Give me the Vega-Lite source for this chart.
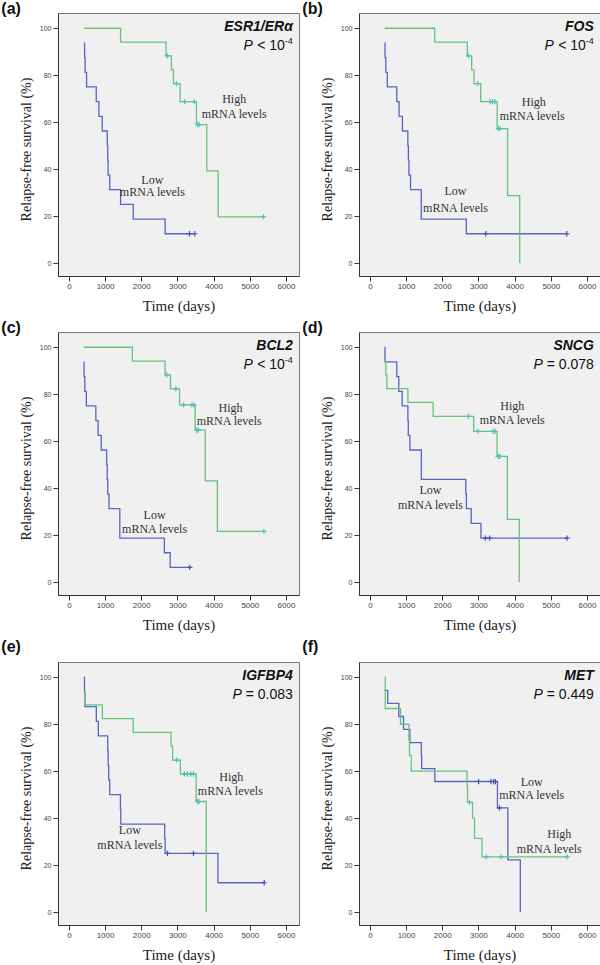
{
  "$schema": "https://vega.github.io/schema/vega-lite/v6.json",
  "background": "white",
  "padding": {"left": 0, "top": 0, "right": 0, "bottom": 0},
  "datasets": {
    "km": [
      {"p":"a","g":"Low","t":425,"s":93.75},{"p":"a","g":"Low","t":435,"s":87.5},{"p":"a","g":"Low","t":450,"s":81.25},{"p":"a","g":"Low","t":490,"s":75},{"p":"a","g":"Low","t":757,"s":68.75},{"p":"a","g":"Low","t":830,"s":62.5},{"p":"a","g":"Low","t":923,"s":56.25},{"p":"a","g":"Low","t":1062,"s":50},{"p":"a","g":"Low","t":1075,"s":43.75},{"p":"a","g":"Low","t":1085,"s":37.5},{"p":"a","g":"Low","t":1130,"s":31.25},{"p":"a","g":"Low","t":1430,"s":25},{"p":"a","g":"Low","t":1780,"s":18.75},{"p":"a","g":"Low","t":2660,"s":12.5},{"p":"a","g":"Low","t":3332,"s":12.5,"c":1},{"p":"a","g":"Low","t":3480,"s":12.5,"c":1},
      {"p":"a","g":"High","t":425,"s":100},{"p":"a","g":"High","t":1430,"s":94.1},{"p":"a","g":"High","t":2686,"s":88.2},{"p":"a","g":"High","t":2720,"s":88.2,"c":1},{"p":"a","g":"High","t":2834,"s":82.3},{"p":"a","g":"High","t":2890,"s":76.4},{"p":"a","g":"High","t":2972,"s":76.4,"c":1},{"p":"a","g":"High","t":3074,"s":68.8},{"p":"a","g":"High","t":3203,"s":68.8,"c":1},{"p":"a","g":"High","t":3462,"s":68.8,"c":1},{"p":"a","g":"High","t":3526,"s":59},{"p":"a","g":"High","t":3560,"s":59,"c":1},{"p":"a","g":"High","t":3600,"s":59,"c":1},{"p":"a","g":"High","t":3812,"s":39.3},{"p":"a","g":"High","t":4126,"s":19.7},{"p":"a","g":"High","t":5382,"s":19.7,"c":1},
      {"p":"b","g":"Low","t":409,"s":93.75},{"p":"b","g":"Low","t":420,"s":87.5},{"p":"b","g":"Low","t":440,"s":81.25},{"p":"b","g":"Low","t":483,"s":75},{"p":"b","g":"Low","t":743,"s":68.75},{"p":"b","g":"Low","t":808,"s":62.5},{"p":"b","g":"Low","t":900,"s":56.25},{"p":"b","g":"Low","t":1050,"s":50},{"p":"b","g":"Low","t":1065,"s":43.75},{"p":"b","g":"Low","t":1080,"s":37.5},{"p":"b","g":"Low","t":1124,"s":31.25},{"p":"b","g":"Low","t":1421,"s":18.75},{"p":"b","g":"Low","t":2665,"s":12.5},{"p":"b","g":"Low","t":3203,"s":12.5,"c":1},{"p":"b","g":"Low","t":5443,"s":12.5,"c":1},
      {"p":"b","g":"High","t":409,"s":100},{"p":"b","g":"High","t":1792,"s":94.1},{"p":"b","g":"High","t":2693,"s":88.2},{"p":"b","g":"High","t":2725,"s":88.2,"c":1},{"p":"b","g":"High","t":2813,"s":82.3},{"p":"b","g":"High","t":2878,"s":76.4},{"p":"b","g":"High","t":2980,"s":76.4,"c":1},{"p":"b","g":"High","t":3064,"s":68.8},{"p":"b","g":"High","t":3324,"s":68.8,"c":1},{"p":"b","g":"High","t":3389,"s":68.8,"c":1},{"p":"b","g":"High","t":3454,"s":68.8,"c":1},{"p":"b","g":"High","t":3519,"s":57.3},{"p":"b","g":"High","t":3550,"s":57.3,"c":1},{"p":"b","g":"High","t":3600,"s":57.3,"c":1},{"p":"b","g":"High","t":3807,"s":28.7},{"p":"b","g":"High","t":4141,"s":0},
      {"p":"c","g":"Low","t":410,"s":93.75},{"p":"c","g":"Low","t":420,"s":87.5},{"p":"c","g":"Low","t":440,"s":81.25},{"p":"c","g":"Low","t":483,"s":75},{"p":"c","g":"Low","t":746,"s":68.75},{"p":"c","g":"Low","t":808,"s":62.5},{"p":"c","g":"Low","t":895,"s":56.25},{"p":"c","g":"Low","t":1045,"s":50},{"p":"c","g":"Low","t":1060,"s":43.75},{"p":"c","g":"Low","t":1075,"s":37.5},{"p":"c","g":"Low","t":1110,"s":31.25},{"p":"c","g":"Low","t":1408,"s":18.75},{"p":"c","g":"Low","t":2640,"s":12.5},{"p":"c","g":"Low","t":2800,"s":6.25},{"p":"c","g":"Low","t":3340,"s":6.25,"c":1},
      {"p":"c","g":"High","t":410,"s":100},{"p":"c","g":"High","t":1754,"s":94.1},{"p":"c","g":"High","t":2659,"s":88.2},{"p":"c","g":"High","t":2705,"s":88.2,"c":1},{"p":"c","g":"High","t":2808,"s":82.3},{"p":"c","g":"High","t":2957,"s":82.3,"c":1},{"p":"c","g":"High","t":3060,"s":75.5},{"p":"c","g":"High","t":3170,"s":75.5,"c":1},{"p":"c","g":"High","t":3400,"s":75.5,"c":1},{"p":"c","g":"High","t":3460,"s":75.5,"c":1},{"p":"c","g":"High","t":3490,"s":64.7},{"p":"c","g":"High","t":3530,"s":64.7,"c":1},{"p":"c","g":"High","t":3580,"s":64.7,"c":1},{"p":"c","g":"High","t":3769,"s":43.1},{"p":"c","g":"High","t":4104,"s":21.6},{"p":"c","g":"High","t":5390,"s":21.6,"c":1},
      {"p":"d","g":"Low","t":410,"s":100},{"p":"d","g":"Low","t":418,"s":93.75},{"p":"d","g":"Low","t":744,"s":87.5},{"p":"d","g":"Low","t":800,"s":81.25},{"p":"d","g":"Low","t":893,"s":75},{"p":"d","g":"Low","t":1051,"s":68.75},{"p":"d","g":"Low","t":1062,"s":62.5},{"p":"d","g":"Low","t":1107,"s":56.25},{"p":"d","g":"Low","t":1423,"s":43.75},{"p":"d","g":"Low","t":2651,"s":37.5},{"p":"d","g":"Low","t":2668,"s":31.25},{"p":"d","g":"Low","t":2800,"s":25},{"p":"d","g":"Low","t":3070,"s":18.75},{"p":"d","g":"Low","t":3190,"s":18.75,"c":1},{"p":"d","g":"Low","t":3310,"s":18.75,"c":1},{"p":"d","g":"Low","t":5450,"s":18.75,"c":1},
      {"p":"d","g":"High","t":410,"s":94.1},{"p":"d","g":"High","t":440,"s":88.2},{"p":"d","g":"High","t":470,"s":82.4},{"p":"d","g":"High","t":1051,"s":76.5},{"p":"d","g":"High","t":1749,"s":70.6},{"p":"d","g":"High","t":2725,"s":70.6,"c":1},{"p":"d","g":"High","t":2870,"s":64.2},{"p":"d","g":"High","t":2986,"s":64.2,"c":1},{"p":"d","g":"High","t":3405,"s":64.2,"c":1},{"p":"d","g":"High","t":3460,"s":64.2,"c":1},{"p":"d","g":"High","t":3516,"s":53.5},{"p":"d","g":"High","t":3544,"s":53.5,"c":1},{"p":"d","g":"High","t":3590,"s":53.5,"c":1},{"p":"d","g":"High","t":3800,"s":26.7},{"p":"d","g":"High","t":4130,"s":0},
      {"p":"e","g":"Low","t":426,"s":100},{"p":"e","g":"Low","t":432,"s":93.75},{"p":"e","g":"Low","t":442,"s":87.5},{"p":"e","g":"Low","t":759,"s":81.25},{"p":"e","g":"Low","t":815,"s":75},{"p":"e","g":"Low","t":1074,"s":68.75},{"p":"e","g":"Low","t":1085,"s":62.5},{"p":"e","g":"Low","t":1100,"s":56.25},{"p":"e","g":"Low","t":1130,"s":50},{"p":"e","g":"Low","t":1426,"s":43.75},{"p":"e","g":"Low","t":1435,"s":37.5},{"p":"e","g":"Low","t":2648,"s":31.25},{"p":"e","g":"Low","t":2662,"s":25},{"p":"e","g":"Low","t":2722,"s":25,"c":1},{"p":"e","g":"Low","t":3444,"s":25,"c":1},{"p":"e","g":"Low","t":4120,"s":12.5},{"p":"e","g":"Low","t":5398,"s":12.5,"c":1},
      {"p":"e","g":"High","t":426,"s":94.1},{"p":"e","g":"High","t":440,"s":88.2},{"p":"e","g":"High","t":926,"s":82.4},{"p":"e","g":"High","t":1778,"s":76.5},{"p":"e","g":"High","t":2824,"s":70.6},{"p":"e","g":"High","t":2870,"s":64.7},{"p":"e","g":"High","t":2980,"s":64.7,"c":1},{"p":"e","g":"High","t":3083,"s":58.8},{"p":"e","g":"High","t":3190,"s":58.8,"c":1},{"p":"e","g":"High","t":3280,"s":58.8,"c":1},{"p":"e","g":"High","t":3370,"s":58.8,"c":1},{"p":"e","g":"High","t":3444,"s":58.8,"c":1},{"p":"e","g":"High","t":3518,"s":47.1},{"p":"e","g":"High","t":3555,"s":47.1,"c":1},{"p":"e","g":"High","t":3600,"s":47.1,"c":1},{"p":"e","g":"High","t":3796,"s":0},
      {"p":"f","g":"Low","t":409,"s":94.4},{"p":"f","g":"Low","t":493,"s":88.9},{"p":"f","g":"Low","t":800,"s":83.3},{"p":"f","g":"Low","t":930,"s":77.8},{"p":"f","g":"Low","t":1107,"s":72.2},{"p":"f","g":"Low","t":1423,"s":66.7},{"p":"f","g":"Low","t":1432,"s":61.1},{"p":"f","g":"Low","t":1795,"s":55.6},{"p":"f","g":"Low","t":3005,"s":55.6,"c":1},{"p":"f","g":"Low","t":3349,"s":55.6,"c":1},{"p":"f","g":"Low","t":3423,"s":55.6,"c":1},{"p":"f","g":"Low","t":3470,"s":55.6,"c":1},{"p":"f","g":"Low","t":3526,"s":44.4},{"p":"f","g":"Low","t":3580,"s":44.4,"c":1},{"p":"f","g":"Low","t":3814,"s":22.2},{"p":"f","g":"Low","t":4158,"s":0},
      {"p":"f","g":"High","t":409,"s":100},{"p":"f","g":"High","t":425,"s":86.7},{"p":"f","g":"High","t":847,"s":80},{"p":"f","g":"High","t":1080,"s":73.3},{"p":"f","g":"High","t":1095,"s":66.7},{"p":"f","g":"High","t":1144,"s":60},{"p":"f","g":"High","t":2688,"s":53.3},{"p":"f","g":"High","t":2700,"s":46.7},{"p":"f","g":"High","t":2753,"s":46.7,"c":1},{"p":"f","g":"High","t":2837,"s":40},{"p":"f","g":"High","t":2893,"s":31.4},{"p":"f","g":"High","t":3098,"s":23.5},{"p":"f","g":"High","t":3219,"s":23.5,"c":1},{"p":"f","g":"High","t":3628,"s":23.5,"c":1},{"p":"f","g":"High","t":5451,"s":23.5,"c":1}
    ],
    "ann": [
      {"p":"a","k":"gene","t":6190,"s":98.7,"txt":"ESR1/ERα"},{"p":"a","k":"r1","t":6190,"s":90.8,"txt":"< 10"},{"p":"a","k":"sup","t":6190,"s":90.8,"txt":"-4"},{"p":"a","k":"p1","t":6190,"s":90.8,"txt":"P"},
      {"p":"a","k":"lab","t":4569,"s":68.2,"txt":"High"},{"p":"a","k":"lab","t":4569,"s":61.8,"txt":"mRNA levels"},{"p":"a","k":"lab","t":2308,"s":33.7,"txt":"Low"},{"p":"a","k":"lab","t":2308,"s":28.4,"txt":"mRNA levels"},
      {"p":"b","k":"gene","t":6190,"s":98.7,"txt":"FOS"},{"p":"b","k":"r1","t":6190,"s":90.8,"txt":"< 10"},{"p":"b","k":"sup","t":6190,"s":90.8,"txt":"-4"},{"p":"b","k":"p1","t":6190,"s":90.8,"txt":"P"},
      {"p":"b","k":"lab","t":4531,"s":66.8,"txt":"High"},{"p":"b","k":"lab","t":4485,"s":61.1,"txt":"mRNA levels"},{"p":"b","k":"lab","t":2368,"s":28.8,"txt":"Low"},{"p":"b","k":"lab","t":2368,"s":21.7,"txt":"mRNA levels"},
      {"p":"c","k":"gene","t":6190,"s":98.7,"txt":"BCL2"},{"p":"c","k":"r1","t":6190,"s":90.8,"txt":"< 10"},{"p":"c","k":"sup","t":6190,"s":90.8,"txt":"-4"},{"p":"c","k":"p1","t":6190,"s":90.8,"txt":"P"},
      {"p":"c","k":"lab","t":4468,"s":72.4,"txt":"High"},{"p":"c","k":"lab","t":4431,"s":66.7,"txt":"mRNA levels"},{"p":"c","k":"lab","t":2369,"s":27,"txt":"Low"},{"p":"c","k":"lab","t":2369,"s":21.1,"txt":"mRNA levels"},
      {"p":"d","k":"gene","t":6190,"s":98.7,"txt":"SNCG"},{"p":"d","k":"r2","t":6190,"s":90.8,"txt":"= 0.078"},{"p":"d","k":"p2","t":6190,"s":90.8,"txt":"P"},
      {"p":"d","k":"lab","t":3935,"s":73.3,"txt":"High"},{"p":"d","k":"lab","t":3935,"s":67.2,"txt":"mRNA levels"},{"p":"d","k":"lab","t":1674,"s":37.4,"txt":"Low"},{"p":"d","k":"lab","t":1674,"s":31.3,"txt":"mRNA levels"},
      {"p":"e","k":"gene","t":6190,"s":98.7,"txt":"IGFBP4"},{"p":"e","k":"r2","t":6190,"s":90.8,"txt":"= 0.083"},{"p":"e","k":"p2","t":6190,"s":90.8,"txt":"P"},
      {"p":"e","k":"lab","t":4491,"s":56,"txt":"High"},{"p":"e","k":"lab","t":4463,"s":49.9,"txt":"mRNA levels"},{"p":"e","k":"lab","t":1685,"s":33.2,"txt":"Low"},{"p":"e","k":"lab","t":1685,"s":26.8,"txt":"mRNA levels"},
      {"p":"f","k":"gene","t":6190,"s":98.7,"txt":"MET"},{"p":"f","k":"r2","t":6190,"s":90.8,"txt":"= 0.449"},{"p":"f","k":"p2","t":6190,"s":90.8,"txt":"P"},
      {"p":"f","k":"lab","t":4474,"s":53.9,"txt":"Low"},{"p":"f","k":"lab","t":4474,"s":48.1,"txt":"mRNA levels"},{"p":"f","k":"lab","t":5237,"s":31.4,"txt":"High"},{"p":"f","k":"lab","t":4958,"s":25,"txt":"mRNA levels"}
    ]
  },
  "columns": 2,
  "spacing": {"row": 5, "column": 1},
  "concat": [
    {"width":241,"height":263,"title":{"text":"(a)"},
     "encoding":{"x":{"field":"t","type":"quantitative","scale":{"domain":[-300,6360],"nice":false,"zero":false},"axis":{"values":[0,1000,2000,3000,4000,5000,6000],"format":"d","title":"Time (days)"}},"y":{"field":"s","type":"quantitative","scale":{"domain":[-5.5,106.5],"nice":false,"zero":false},"axis":{"values":[0,20,40,60,80,100],"format":"d","title":"Relapse-free survival (%)"}}},
     "layer":[
      {"data":{"name":"km"},"transform":[{"filter":"datum.p==='a'"}],"mark":{"type":"line","interpolate":"step-after","strokeWidth":1.3},"encoding":{"color":{"field":"g","type":"nominal","scale":{"domain":["High","Low"],"range":["#66c47a","#5865c2"]},"legend":null}}},
      {"data":{"name":"km"},"transform":[{"filter":"datum.p==='a' && datum.c===1"}],"mark":{"type":"point","shape":"M-1,0L1,0M0,-1L0,1","size":28,"strokeWidth":1.2,"filled":false,"opacity":1},"encoding":{"stroke":{"field":"g","type":"nominal","scale":{"domain":["High","Low"],"range":["#50c0c0","#4553b5"]},"legend":null}}},
      {"data":{"name":"ann"},"transform":[{"filter":"datum.p==='a' && datum.k==='lab'"}],"mark":{"type":"text","font":"Liberation Serif","fontSize":12,"align":"center","baseline":"alphabetic","color":"#333"},"encoding":{"text":{"field":"txt"}}},
      {"data":{"name":"ann"},"transform":[{"filter":"datum.p==='a' && datum.k==='gene'"}],"mark":{"type":"text","font":"Liberation Sans","fontSize":14,"fontStyle":"italic","fontWeight":"bold","align":"right","baseline":"alphabetic","color":"#111"},"encoding":{"text":{"field":"txt"}}},
      {"data":{"name":"ann"},"transform":[{"filter":"datum.p==='a' && datum.k==='r1'"}],"mark":{"type":"text","font":"Liberation Sans","fontSize":14,"align":"right","baseline":"alphabetic","dx":-8,"color":"#111"},"encoding":{"text":{"field":"txt"}}},
      {"data":{"name":"ann"},"transform":[{"filter":"datum.p==='a' && datum.k==='sup'"}],"mark":{"type":"text","font":"Liberation Sans","fontSize":9,"align":"right","baseline":"alphabetic","dy":-6,"color":"#111"},"encoding":{"text":{"field":"txt"}}},
      {"data":{"name":"ann"},"transform":[{"filter":"datum.p==='a' && datum.k==='p1'"}],"mark":{"type":"text","font":"Liberation Sans","fontSize":14,"fontStyle":"italic","align":"right","baseline":"alphabetic","dx":-40,"color":"#111"},"encoding":{"text":{"field":"txt"}}}
     ]},
    {"width":241,"height":263,"title":{"text":"(b)"},
     "encoding":{"x":{"field":"t","type":"quantitative","scale":{"domain":[-300,6360],"nice":false,"zero":false},"axis":{"values":[0,1000,2000,3000,4000,5000,6000],"format":"d","title":"Time (days)"}},"y":{"field":"s","type":"quantitative","scale":{"domain":[-5.5,106.5],"nice":false,"zero":false},"axis":{"values":[0,20,40,60,80,100],"format":"d","title":"Relapse-free survival (%)"}}},
     "layer":[
      {"data":{"name":"km"},"transform":[{"filter":"datum.p==='b'"}],"mark":{"type":"line","interpolate":"step-after","strokeWidth":1.3},"encoding":{"color":{"field":"g","type":"nominal","scale":{"domain":["High","Low"],"range":["#66c47a","#5865c2"]},"legend":null}}},
      {"data":{"name":"km"},"transform":[{"filter":"datum.p==='b' && datum.c===1"}],"mark":{"type":"point","shape":"M-1,0L1,0M0,-1L0,1","size":28,"strokeWidth":1.2,"filled":false,"opacity":1},"encoding":{"stroke":{"field":"g","type":"nominal","scale":{"domain":["High","Low"],"range":["#50c0c0","#4553b5"]},"legend":null}}},
      {"data":{"name":"ann"},"transform":[{"filter":"datum.p==='b' && datum.k==='lab'"}],"mark":{"type":"text","font":"Liberation Serif","fontSize":12,"align":"center","baseline":"alphabetic","color":"#333"},"encoding":{"text":{"field":"txt"}}},
      {"data":{"name":"ann"},"transform":[{"filter":"datum.p==='b' && datum.k==='gene'"}],"mark":{"type":"text","font":"Liberation Sans","fontSize":14,"fontStyle":"italic","fontWeight":"bold","align":"right","baseline":"alphabetic","color":"#111"},"encoding":{"text":{"field":"txt"}}},
      {"data":{"name":"ann"},"transform":[{"filter":"datum.p==='b' && datum.k==='r1'"}],"mark":{"type":"text","font":"Liberation Sans","fontSize":14,"align":"right","baseline":"alphabetic","dx":-8,"color":"#111"},"encoding":{"text":{"field":"txt"}}},
      {"data":{"name":"ann"},"transform":[{"filter":"datum.p==='b' && datum.k==='sup'"}],"mark":{"type":"text","font":"Liberation Sans","fontSize":9,"align":"right","baseline":"alphabetic","dy":-6,"color":"#111"},"encoding":{"text":{"field":"txt"}}},
      {"data":{"name":"ann"},"transform":[{"filter":"datum.p==='b' && datum.k==='p1'"}],"mark":{"type":"text","font":"Liberation Sans","fontSize":14,"fontStyle":"italic","align":"right","baseline":"alphabetic","dx":-40,"color":"#111"},"encoding":{"text":{"field":"txt"}}}
     ]},
    {"width":241,"height":263,"title":{"text":"(c)"},
     "encoding":{"x":{"field":"t","type":"quantitative","scale":{"domain":[-300,6360],"nice":false,"zero":false},"axis":{"values":[0,1000,2000,3000,4000,5000,6000],"format":"d","title":"Time (days)"}},"y":{"field":"s","type":"quantitative","scale":{"domain":[-5.5,106.5],"nice":false,"zero":false},"axis":{"values":[0,20,40,60,80,100],"format":"d","title":"Relapse-free survival (%)"}}},
     "layer":[
      {"data":{"name":"km"},"transform":[{"filter":"datum.p==='c'"}],"mark":{"type":"line","interpolate":"step-after","strokeWidth":1.3},"encoding":{"color":{"field":"g","type":"nominal","scale":{"domain":["High","Low"],"range":["#66c47a","#5865c2"]},"legend":null}}},
      {"data":{"name":"km"},"transform":[{"filter":"datum.p==='c' && datum.c===1"}],"mark":{"type":"point","shape":"M-1,0L1,0M0,-1L0,1","size":28,"strokeWidth":1.2,"filled":false,"opacity":1},"encoding":{"stroke":{"field":"g","type":"nominal","scale":{"domain":["High","Low"],"range":["#50c0c0","#4553b5"]},"legend":null}}},
      {"data":{"name":"ann"},"transform":[{"filter":"datum.p==='c' && datum.k==='lab'"}],"mark":{"type":"text","font":"Liberation Serif","fontSize":12,"align":"center","baseline":"alphabetic","color":"#333"},"encoding":{"text":{"field":"txt"}}},
      {"data":{"name":"ann"},"transform":[{"filter":"datum.p==='c' && datum.k==='gene'"}],"mark":{"type":"text","font":"Liberation Sans","fontSize":14,"fontStyle":"italic","fontWeight":"bold","align":"right","baseline":"alphabetic","color":"#111"},"encoding":{"text":{"field":"txt"}}},
      {"data":{"name":"ann"},"transform":[{"filter":"datum.p==='c' && datum.k==='r1'"}],"mark":{"type":"text","font":"Liberation Sans","fontSize":14,"align":"right","baseline":"alphabetic","dx":-8,"color":"#111"},"encoding":{"text":{"field":"txt"}}},
      {"data":{"name":"ann"},"transform":[{"filter":"datum.p==='c' && datum.k==='sup'"}],"mark":{"type":"text","font":"Liberation Sans","fontSize":9,"align":"right","baseline":"alphabetic","dy":-6,"color":"#111"},"encoding":{"text":{"field":"txt"}}},
      {"data":{"name":"ann"},"transform":[{"filter":"datum.p==='c' && datum.k==='p1'"}],"mark":{"type":"text","font":"Liberation Sans","fontSize":14,"fontStyle":"italic","align":"right","baseline":"alphabetic","dx":-40,"color":"#111"},"encoding":{"text":{"field":"txt"}}}
     ]},
    {"width":241,"height":263,"title":{"text":"(d)"},
     "encoding":{"x":{"field":"t","type":"quantitative","scale":{"domain":[-300,6360],"nice":false,"zero":false},"axis":{"values":[0,1000,2000,3000,4000,5000,6000],"format":"d","title":"Time (days)"}},"y":{"field":"s","type":"quantitative","scale":{"domain":[-5.5,106.5],"nice":false,"zero":false},"axis":{"values":[0,20,40,60,80,100],"format":"d","title":"Relapse-free survival (%)"}}},
     "layer":[
      {"data":{"name":"km"},"transform":[{"filter":"datum.p==='d'"}],"mark":{"type":"line","interpolate":"step-after","strokeWidth":1.3},"encoding":{"color":{"field":"g","type":"nominal","scale":{"domain":["High","Low"],"range":["#66c47a","#5865c2"]},"legend":null}}},
      {"data":{"name":"km"},"transform":[{"filter":"datum.p==='d' && datum.c===1"}],"mark":{"type":"point","shape":"M-1,0L1,0M0,-1L0,1","size":28,"strokeWidth":1.2,"filled":false,"opacity":1},"encoding":{"stroke":{"field":"g","type":"nominal","scale":{"domain":["High","Low"],"range":["#50c0c0","#4553b5"]},"legend":null}}},
      {"data":{"name":"ann"},"transform":[{"filter":"datum.p==='d' && datum.k==='lab'"}],"mark":{"type":"text","font":"Liberation Serif","fontSize":12,"align":"center","baseline":"alphabetic","color":"#333"},"encoding":{"text":{"field":"txt"}}},
      {"data":{"name":"ann"},"transform":[{"filter":"datum.p==='d' && datum.k==='gene'"}],"mark":{"type":"text","font":"Liberation Sans","fontSize":14,"fontStyle":"italic","fontWeight":"bold","align":"right","baseline":"alphabetic","color":"#111"},"encoding":{"text":{"field":"txt"}}},
      {"data":{"name":"ann"},"transform":[{"filter":"datum.p==='d' && datum.k==='r2'"}],"mark":{"type":"text","font":"Liberation Sans","fontSize":14,"align":"right","baseline":"alphabetic","color":"#111"},"encoding":{"text":{"field":"txt"}}},
      {"data":{"name":"ann"},"transform":[{"filter":"datum.p==='d' && datum.k==='p2'"}],"mark":{"type":"text","font":"Liberation Sans","fontSize":14,"fontStyle":"italic","align":"right","baseline":"alphabetic","dx":-51,"color":"#111"},"encoding":{"text":{"field":"txt"}}}
     ]},
    {"width":241,"height":263,"title":{"text":"(e)","offset":7},
     "encoding":{"x":{"field":"t","type":"quantitative","scale":{"domain":[-300,6360],"nice":false,"zero":false},"axis":{"values":[0,1000,2000,3000,4000,5000,6000],"format":"d","title":"Time (days)"}},"y":{"field":"s","type":"quantitative","scale":{"domain":[-5.5,106.5],"nice":false,"zero":false},"axis":{"values":[0,20,40,60,80,100],"format":"d","title":"Relapse-free survival (%)"}}},
     "layer":[
      {"data":{"name":"km"},"transform":[{"filter":"datum.p==='e'"}],"mark":{"type":"line","interpolate":"step-after","strokeWidth":1.3},"encoding":{"color":{"field":"g","type":"nominal","scale":{"domain":["High","Low"],"range":["#66c47a","#5865c2"]},"legend":null}}},
      {"data":{"name":"km"},"transform":[{"filter":"datum.p==='e' && datum.c===1"}],"mark":{"type":"point","shape":"M-1,0L1,0M0,-1L0,1","size":28,"strokeWidth":1.2,"filled":false,"opacity":1},"encoding":{"stroke":{"field":"g","type":"nominal","scale":{"domain":["High","Low"],"range":["#50c0c0","#4553b5"]},"legend":null}}},
      {"data":{"name":"ann"},"transform":[{"filter":"datum.p==='e' && datum.k==='lab'"}],"mark":{"type":"text","font":"Liberation Serif","fontSize":12,"align":"center","baseline":"alphabetic","color":"#333"},"encoding":{"text":{"field":"txt"}}},
      {"data":{"name":"ann"},"transform":[{"filter":"datum.p==='e' && datum.k==='gene'"}],"mark":{"type":"text","font":"Liberation Sans","fontSize":14,"fontStyle":"italic","fontWeight":"bold","align":"right","baseline":"alphabetic","color":"#111"},"encoding":{"text":{"field":"txt"}}},
      {"data":{"name":"ann"},"transform":[{"filter":"datum.p==='e' && datum.k==='r2'"}],"mark":{"type":"text","font":"Liberation Sans","fontSize":14,"align":"right","baseline":"alphabetic","color":"#111"},"encoding":{"text":{"field":"txt"}}},
      {"data":{"name":"ann"},"transform":[{"filter":"datum.p==='e' && datum.k==='p2'"}],"mark":{"type":"text","font":"Liberation Sans","fontSize":14,"fontStyle":"italic","align":"right","baseline":"alphabetic","dx":-51,"color":"#111"},"encoding":{"text":{"field":"txt"}}}
     ]},
    {"width":241,"height":263,"title":{"text":"(f)","offset":7},
     "encoding":{"x":{"field":"t","type":"quantitative","scale":{"domain":[-300,6360],"nice":false,"zero":false},"axis":{"values":[0,1000,2000,3000,4000,5000,6000],"format":"d","title":"Time (days)"}},"y":{"field":"s","type":"quantitative","scale":{"domain":[-5.5,106.5],"nice":false,"zero":false},"axis":{"values":[0,20,40,60,80,100],"format":"d","title":"Relapse-free survival (%)"}}},
     "layer":[
      {"data":{"name":"km"},"transform":[{"filter":"datum.p==='f'"}],"mark":{"type":"line","interpolate":"step-after","strokeWidth":1.3},"encoding":{"color":{"field":"g","type":"nominal","scale":{"domain":["High","Low"],"range":["#66c47a","#5865c2"]},"legend":null}}},
      {"data":{"name":"km"},"transform":[{"filter":"datum.p==='f' && datum.c===1"}],"mark":{"type":"point","shape":"M-1,0L1,0M0,-1L0,1","size":28,"strokeWidth":1.2,"filled":false,"opacity":1},"encoding":{"stroke":{"field":"g","type":"nominal","scale":{"domain":["High","Low"],"range":["#50c0c0","#4553b5"]},"legend":null}}},
      {"data":{"name":"ann"},"transform":[{"filter":"datum.p==='f' && datum.k==='lab'"}],"mark":{"type":"text","font":"Liberation Serif","fontSize":12,"align":"center","baseline":"alphabetic","color":"#333"},"encoding":{"text":{"field":"txt"}}},
      {"data":{"name":"ann"},"transform":[{"filter":"datum.p==='f' && datum.k==='gene'"}],"mark":{"type":"text","font":"Liberation Sans","fontSize":14,"fontStyle":"italic","fontWeight":"bold","align":"right","baseline":"alphabetic","color":"#111"},"encoding":{"text":{"field":"txt"}}},
      {"data":{"name":"ann"},"transform":[{"filter":"datum.p==='f' && datum.k==='r2'"}],"mark":{"type":"text","font":"Liberation Sans","fontSize":14,"align":"right","baseline":"alphabetic","color":"#111"},"encoding":{"text":{"field":"txt"}}},
      {"data":{"name":"ann"},"transform":[{"filter":"datum.p==='f' && datum.k==='p2'"}],"mark":{"type":"text","font":"Liberation Sans","fontSize":14,"fontStyle":"italic","align":"right","baseline":"alphabetic","dx":-51,"color":"#111"},"encoding":{"text":{"field":"txt"}}}
     ]}
  ],
  "config": {
    "view": {"fill": "#f0f0f0", "stroke": "#777", "strokeWidth": 1},
    "axis": {"grid": false, "domainColor": "#333", "tickColor": "#333", "labelColor": "#444", "labelFont": "Liberation Sans", "titleFont": "Liberation Serif", "titleFontWeight": "normal", "titleColor": "#222", "tickSize": 5},
    "axisX": {"labelFontSize": 8, "titleFontSize": 15, "labelPadding": 1, "titlePadding": 8},
    "axisY": {"labelFontSize": 7, "titleFontSize": 14, "labelPadding": 2, "titlePadding": 6, "titleY": 136},
    "title": {"anchor": "start", "frame": "bounds", "font": "Liberation Sans", "fontSize": 16, "fontWeight": "bold", "color": "#111", "offset": -4, "dx": -18}
  }
}
